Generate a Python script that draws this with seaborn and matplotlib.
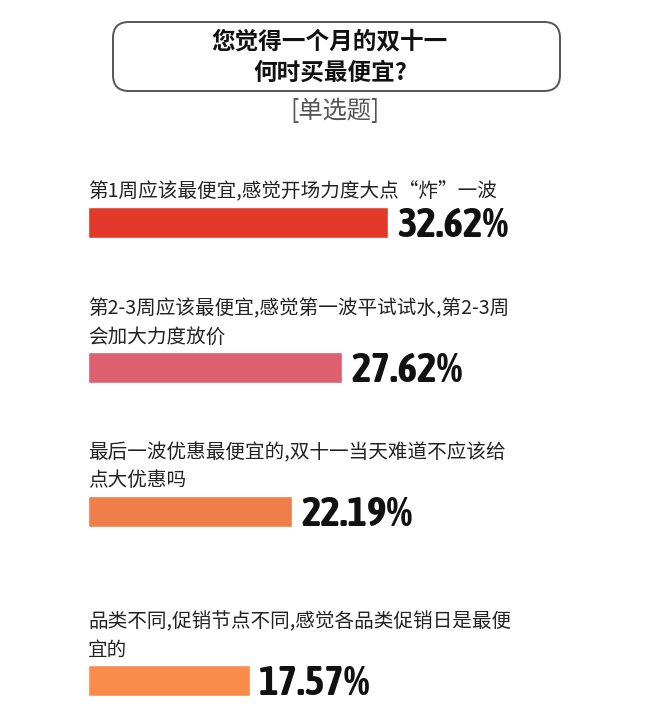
import numpy as np
import pandas as pd
import seaborn as sns
import matplotlib.pyplot as plt
from matplotlib import font_manager
from matplotlib.patches import FancyBboxPatch

# Data
options = [
    '第1周应该最便宜,感觉开场力度大点“炸”一波',
    '第2-3周应该最便宜,感觉第一波平试试水,第2-3周\n会加大力度放价',
    '最后一波优惠最便宜的,双十一当天难道不应该给\n点大优惠吗',
    '品类不同,促销节点不同,感觉各品类促销日是最便\n宜的',
]
percents = [32.62, 27.62, 22.19, 17.57]
colors = ['#E3392B', '#DC6070', '#F07E4A', '#F98C4A']

title = '您觉得一个月的双十一\n何时买最便宜?'
subtitle = '[单选题]'

# Layout (pixel rows of the bar centres, top-down)
bar_y = [222, 367, 511, 680]
bar_h = 31
W, H = 660, 711
x0_px, px_per_pct = 88, 9.2

sns.set_theme(style='white')
plt.rcParams['font.family'] = ['Noto Sans CJK SC', 'DejaVu Sans']


def _w(f):
    w = f.weight
    return w if isinstance(w, int) else font_manager.weight_dict.get(w, 400)


# look for a narrow bold face for the big numbers
fonts = font_manager.fontManager.ttflist
narrow_bold = sorted({f.name for f in fonts
                      if ('Narrow' in f.name or 'Condensed' in f.name) and _w(f) >= 700})
if narrow_bold:
    pct_font, pct_size = narrow_bold[0], 30
else:
    pct_font, pct_size = 'Roboto', 26

df = pd.DataFrame({'option': options, 'pct': percents, 'ypos': bar_y})

fig = plt.figure(figsize=(W / 100, H / 100), dpi=100)
ax = fig.add_axes([0, 0, 1, 1])

width = bar_h / np.min(np.diff(bar_y))
sns.barplot(data=df, x='pct', y='ypos', hue='option', orient='h',
            native_scale=True, dodge=False, width=width, saturation=1,
            palette=dict(zip(options, colors)), legend=False, ax=ax)

ax.set_xlim(-x0_px / px_per_pct, (W - x0_px) / px_per_pct)
ax.set_ylim(H, 0)
ax.axis('off')

# option labels above each bar, percentages to the right
for opt, pct, y in zip(options, percents, bar_y):
    ax.text(0, y - bar_h / 2 - 4, opt, ha='left', va='bottom', fontsize=14.1,
            color='#222222', linespacing=1.45)
    ax.text(pct + 1.0, y + 4, f'{pct:.2f}%', ha='left', va='center',
            fontsize=pct_size, fontweight='bold', color='#111111',
            family=[pct_font, 'DejaVu Sans'])

# title box in pixel coordinates
top = fig.add_axes([0, 0, 1, 1])
top.set_xlim(0, W)
top.set_ylim(H, 0)
top.axis('off')
top.patch.set_alpha(0)
box = FancyBboxPatch((113, 22), 447, 69, boxstyle='round,pad=0,rounding_size=16',
                     fc='none', ec='#555555', lw=1.4)
top.add_patch(box)
top.text(330, 57, title, ha='center', va='center', fontsize=17,
         fontweight='heavy', color='#111111', linespacing=1.4)
top.text(335, 111, subtitle, ha='center', va='center', fontsize=17.5,
         color='#555555')

fig.savefig('out.png', dpi=100)
